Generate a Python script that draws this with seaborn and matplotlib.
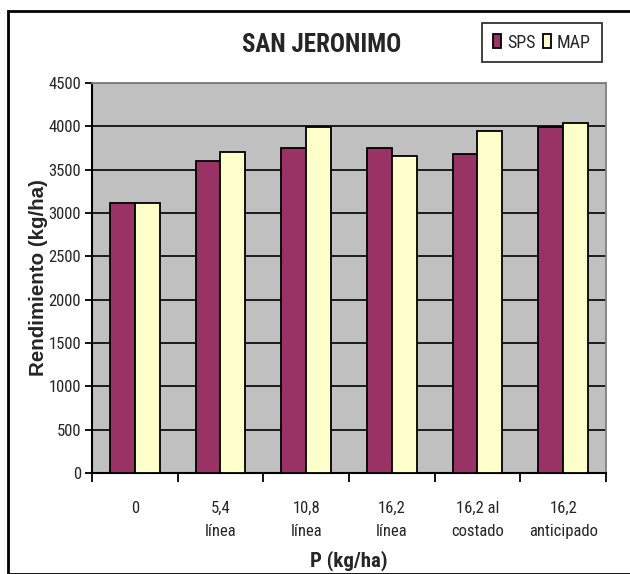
import matplotlib
matplotlib.use("Agg")
import matplotlib.pyplot as plt
import seaborn as sns
import pandas as pd
from matplotlib.patches import Rectangle
from matplotlib import font_manager

categories = ["0", "5,4\nlínea", "10,8\nlínea", "16,2\nlínea", "16,2 al\ncostado", "16,2\nanticipado"]
sps = [3110, 3605, 3750, 3750, 3680, 3990]
map_ = [3110, 3700, 3990, 3655, 3945, 4040]
series = ["SPS", "MAP"]
colors = ["#993366", "#FFFFCC"]
yticks = [0, 500, 1000, 1500, 2000, 2500, 3000, 3500, 4000, 4500]

df = pd.DataFrame({
    "cat": categories * 2,
    "serie": ["SPS"] * len(categories) + ["MAP"] * len(categories),
    "val": sps + map_,
})

sns.set_style("white")
installed = {f.name for f in font_manager.fontManager.ttflist}
narrow = "Liberation Sans"
for cand in ["Liberation Sans Narrow", "Arial Narrow", "Roboto Condensed",
             "Archivo Narrow", "PT Sans Narrow", "Open Sans Condensed"]:
    if cand in installed:
        narrow = cand
        break
NF = [narrow, "DejaVu Sans"]
RF = ["Liberation Sans", "DejaVu Sans"]
plt.rcParams["font.family"] = NF

fig = plt.figure(figsize=(6.3, 5.74), dpi=100)
W, H = 630, 574
ax = fig.add_axes([92 / W, 1 - 473 / H, (606 - 92) / W, (473 - 83) / H])

sns.barplot(data=df, x="cat", y="val", hue="serie", hue_order=series,
            palette=colors, saturation=1, width=0.58, edgecolor="black", linewidth=1.3,
            ax=ax, legend=True, zorder=3)

ax.set_facecolor("#C0C0C0")
ax.set_ylim(0, 4500)
ax.set_xlim(-0.5, len(categories) - 0.5)
ax.set_yticks(yticks)
ax.set_yticklabels([str(v) for v in yticks], fontsize=12)
ax.yaxis.grid(True, color="black", linewidth=1.2, zorder=0)
ax.set_axisbelow(True)
ax.tick_params(axis="y", direction="out", length=5, width=1.3, color="black", pad=3, left=True)

ax.set_xticks(range(len(categories)))
ax.set_xticklabels(categories, fontsize=12, linespacing=1.7)
ax.tick_params(axis="x", length=0, pad=20)
ax.set_xticks([i - 0.5 for i in range(len(categories) + 1)], minor=True)
ax.tick_params(axis="x", which="minor", direction="out", length=6.5, width=1.3, color="black", bottom=True)

for s in ["left", "bottom"]:
    ax.spines[s].set_color("black")
    ax.spines[s].set_linewidth(1.5)
for s in ["top", "right"]:
    ax.spines[s].set_color("#808080")
    ax.spines[s].set_linewidth(1.3)

ax.set_xlabel("P (kg/ha)", fontsize=15, fontweight="bold", labelpad=8)
ax.set_ylabel("Rendimiento (kg/ha)", fontsize=14.8, fontweight="bold", family=RF)
ax.yaxis.set_label_coords(-0.085, 0.5)

fig.text(322 / W, 1 - 45 / H, "SAN JERONIMO", ha="center", va="center",
         fontsize=18, fontweight="bold")

leg = ax.legend(loc="center", bbox_to_anchor=(542 / W, 1 - 42.5 / H), bbox_transform=fig.transFigure,
                ncol=2, frameon=True, fancybox=False, edgecolor="black", fontsize=13,
                handlelength=0.45, handleheight=0.8, handletextpad=0.3, columnspacing=0.45,
                borderpad=0.6, borderaxespad=0, title=None)
leg.get_frame().set_linewidth(1.3)

fig.patches.append(Rectangle((8 / W, 0), 1, 1 - 11 / H, transform=fig.transFigure,
                             fill=False, edgecolor="black", linewidth=2))

fig.savefig("out.png", dpi=100)
